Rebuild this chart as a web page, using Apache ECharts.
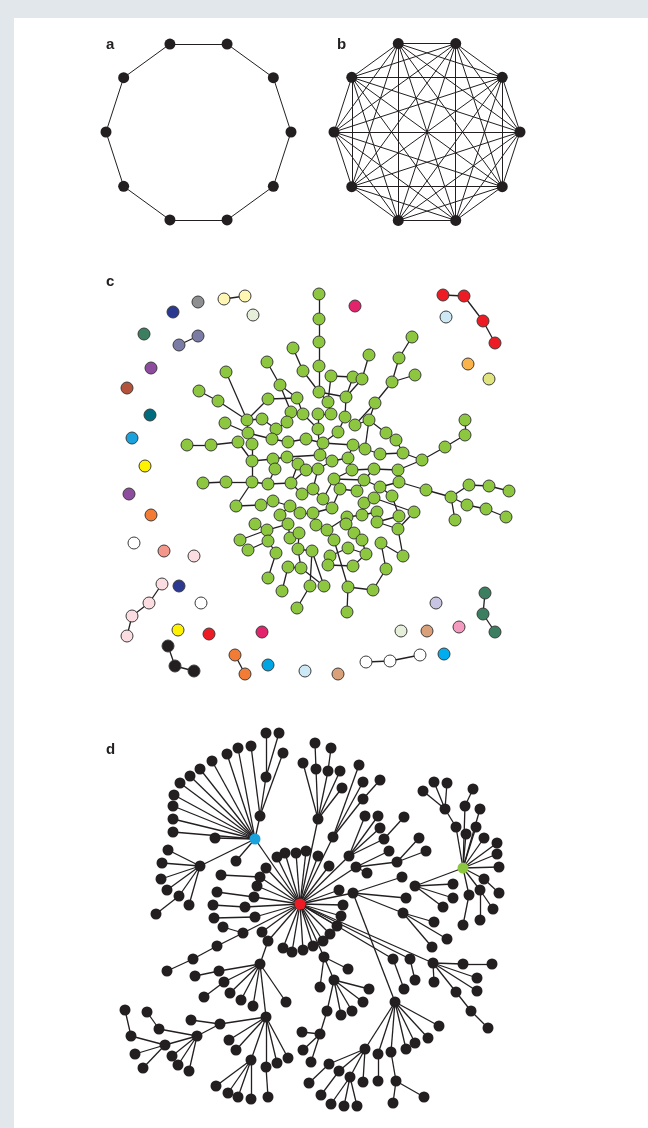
<!DOCTYPE html>
<html>
<head>
<meta charset="utf-8">
<script src="https://cdn.jsdelivr.net/npm/echarts@6/dist/echarts.min.js"></script>
<style>
  html, body { margin: 0; padding: 0; background: #e2e7ec; }
  #chart { width: 648px; height: 1128px; }
</style>
</head>
<body>
<div id="chart"></div>
<script>
// ---------- panel a / b : ten nodes on a circle (angle in degrees) ----------
const ringAngles = [0, 36, 72, 108, 144, 180, 216, 252, 288, 324];

// ---------- panel c : small components (x, y, fill) ----------
const smallNodes = [
  [198, 302, '#8e8f91'], [173, 312, '#2b3990'], [224, 299, '#fff6b3'], [245, 296, '#fff6b3'],
  [253, 315, '#e6efd9'], [144, 334, '#3b7f60'], [179, 345, '#7a7ca6'], [198, 336, '#7a7ca6'],
  [151, 368, '#8e4c9e'], [127, 388, '#b4533c'], [150, 415, '#006b7d'], [132, 438, '#1ba1db'],
  [145, 466, '#fff200'], [355, 306, '#e3236b'], [443, 295, '#ed1c24'], [464, 296, '#ed1c24'],
  [483, 321, '#ed1c24'], [495, 343, '#ed1c24'], [446, 317, '#cde9f6'], [468, 364, '#f9b34a'],
  [489, 379, '#e0e47e'], [129, 494, '#8e4c9e'], [151, 515, '#f27b35'], [134, 543, '#ffffff'],
  [164, 551, '#f4968a'], [194, 556, '#fbdde1'], [162, 584, '#fbdde1'], [149, 603, '#fbdde1'],
  [132, 616, '#fbdde1'], [127, 636, '#fbdde1'], [179, 586, '#2b3990'], [201, 603, '#ffffff'],
  [178, 630, '#fff200'], [209, 634, '#ed1c24'], [262, 632, '#e3236b'], [168, 646, '#231f20'],
  [175, 666, '#231f20'], [194, 671, '#231f20'], [235, 655, '#f27b35'], [245, 674, '#f27b35'],
  [268, 665, '#00a6e4'], [305, 671, '#cde9f6'], [338, 674, '#d9a07a'], [366, 662, '#ffffff'],
  [390, 661, '#ffffff'], [420, 655, '#ffffff'], [444, 654, '#00aeef'], [401, 631, '#e6efd9'],
  [427, 631, '#d9a07a'], [459, 627, '#f49ac1'], [436, 603, '#c8c5e2'], [485, 593, '#3b7f60'],
  [483, 614, '#3b7f60'], [495, 632, '#3b7f60']
];
const smallEdges = [
  [2, 3], [6, 7], [14, 15], [15, 16], [16, 17], [26, 27], [27, 28], [28, 29],
  [35, 36], [36, 37], [38, 39], [43, 44], [44, 45], [51, 52], [52, 53]
];

// ---------- panel c : giant component (node numbers start at 1) ----------
const giantNodes = [
  [319,294],[319,319],[319,342],[319,366],[293,348],[303,371],[267,362],[280,385],[226,372],[199,391],
  [218,401],[412,337],[399,358],[369,355],[392,382],[415,375],[331,376],[353,377],[362,379],[268,399],
  [297,398],[319,392],[328,402],[346,397],[375,403],[247,420],[262,419],[291,412],[303,414],[318,414],
  [331,414],[345,417],[287,422],[355,425],[369,420],[225,423],[248,433],[276,429],[318,429],[338,432],
  [386,433],[238,442],[252,444],[272,439],[288,442],[306,439],[323,443],[353,445],[365,449],[396,440],
  [187,445],[211,445],[465,420],[465,435],[445,447],[380,454],[403,453],[422,460],[252,461],[273,459],
  [287,457],[298,464],[320,455],[332,461],[348,458],[275,469],[306,470],[318,469],[352,470],[374,469],
  [398,470],[203,483],[226,482],[252,482],[268,484],[291,483],[313,489],[334,479],[340,489],[357,491],
  [364,480],[380,487],[399,482],[426,490],[451,497],[469,485],[489,486],[509,491],[467,505],[486,509],
  [506,517],[455,520],[236,506],[261,505],[273,501],[290,506],[302,494],[323,499],[332,508],[364,503],
  [374,498],[392,496],[377,512],[362,515],[347,517],[313,513],[300,513],[280,515],[399,516],[414,512],
  [255,524],[267,530],[288,524],[316,525],[327,530],[346,524],[377,522],[398,529],[240,540],[268,541],
  [290,538],[299,533],[334,540],[354,533],[362,540],[381,543],[248,550],[276,553],[298,549],[312,551],
  [330,556],[348,548],[366,554],[403,556],[288,567],[301,568],[328,565],[353,566],[386,569],[268,578],
  [282,591],[310,586],[324,586],[348,587],[373,590],[297,608],[347,612]
];
const giantEdges = [
  [1,2],[2,3],[3,4],[4,22],[5,6],[6,22],[7,8],[8,21],[8,28],[9,26],[10,11],[11,26],[20,26],[20,21],
  [26,27],[26,37],[36,37],[37,44],[37,43],[51,52],[52,42],[42,59],[44,45],[45,46],[28,33],[33,38],
  [22,23],[22,24],[17,23],[19,24],[14,19],[18,24],[12,13],[13,15],[15,16],[15,25],[25,34],[34,35],
  [29,39],[30,31],[31,23],[32,40],[24,32],[35,41],[41,50],[50,57],[57,58],[53,54],[54,55],[55,58],
  [58,71],[35,49],[48,49],[49,56],[47,48],[46,47],[61,63],[60,61],[63,64],[64,65],[60,66],[62,67],
  [39,63],[65,69],[69,70],[70,71],[21,29],[27,38],[38,44],[28,29],[40,47],[43,59],[59,60],[61,62],
  [67,68],[68,64],[65,48],[25,35],[30,39],[17,18],[56,57],
  [72,73],[73,74],[74,93],[74,59],[74,75],[75,76],[76,97],[97,77],[77,98],[98,78],[78,81],[79,80],
  [80,81],[81,82],[82,83],[83,84],[84,85],[85,86],[86,87],[87,88],[85,89],[89,90],[90,91],[85,92],
  [101,110],[102,109],[100,101],[100,104],[103,117],[117,118],[126,134],[126,139],[139,145],[145,144],
  [144,147],[123,144],[142,130],[143,130],[146,142],[141,135],[140,128],[119,112],[127,120],[111,112],
  [93,94],[94,95],[95,96],[96,108],[108,113],[113,121],[121,122],[122,129],[129,136],[136,135],
  [107,106],[106,99],[99,98],[105,104],[105,116],[116,124],[124,125],[125,133],[133,132],[132,131],
  [131,137],[137,138],[114,115],[115,123],[114,106],[66,75],[68,77],[70,81],[71,83],[79,99],[82,102],
  [103,104],[110,118],[109,117],[120,128],[120,112],[130,129],[136,143],[138,133],[69,78],[62,76],
  [112,113],[105,115],[134,118],[67,76]
];

// ---------- panel d : scale-free network (node numbers start at 1) ----------
const hubColors = { 1: '#1ba1db', 2: '#ed1c24', 3: '#8dc63f' };
const treeNodes = [
  [255,839],[300,904],[463,868],
  [266,733],[279,733],[266,777],[260,816],[283,753],[251,746],[238,748],[227,754],[212,761],[200,769],
  [190,776],[180,783],[174,795],[173,806],[173,819],[173,832],[215,838],[236,861],[200,866],[168,850],
  [162,863],[161,879],[167,890],[179,896],[156,914],[189,905],
  [318,819],[315,743],[331,748],[303,763],[316,769],[328,771],[340,771],[342,788],
  [333,837],[359,765],[363,782],[380,780],[363,799],
  [349,856],[365,816],[378,816],[404,817],[380,828],[384,839],
  [356,867],[397,862],[419,838],[426,851],[389,851],[367,873],
  [277,857],[285,853],[296,853],[306,851],[318,856],[329,866],[339,890],[343,905],[341,916],
  [353,893],[402,877],[406,898],[403,913],[434,922],[447,939],[432,947],
  [415,886],[453,884],[453,898],[443,907],
  [456,827],[445,809],[423,791],[434,782],[447,783],[465,806],[473,789],[480,809],[476,827],[466,834],
  [484,838],[497,843],[497,854],[499,867],[484,879],[499,893],[480,890],[469,895],[493,909],[463,925],
  [480,920],
  [266,868],[260,877],[257,886],[254,897],[245,907],[221,875],[217,892],[213,905],[214,918],[255,917],
  [223,927],[243,933],[262,932],[217,946],[193,959],[167,971],
  [268,941],[283,948],[292,952],[303,950],[313,946],[323,941],[330,934],[337,926],
  [260,964],[219,971],[195,976],[224,982],[204,997],[230,993],[241,1000],[253,1006],[286,1002],[266,1017],
  [220,1024],[191,1020],[197,1036],[229,1040],[236,1050],[251,1060],[266,1067],[277,1063],[288,1058],
  [268,1097],[216,1086],[228,1093],[238,1097],[251,1099],
  [159,1029],[147,1012],[165,1045],[131,1036],[125,1010],[135,1054],[143,1068],[172,1056],[178,1065],
  [189,1071],
  [324,957],[348,969],[334,980],[320,987],[369,989],[363,1002],[352,1011],[341,1015],[327,1011],
  [320,1034],[302,1032],[303,1050],[311,1062],
  [393,959],[410,959],[433,963],[463,964],[492,964],[477,978],[477,991],[456,992],[471,1011],[488,1028],
  [415,980],[404,989],[434,982],
  [395,1002],[439,1026],[428,1038],[415,1043],[406,1049],[391,1052],[378,1054],[365,1049],[396,1081],
  [393,1103],[424,1097],[378,1081],[329,1064],[339,1071],[350,1077],[363,1082],[309,1083],[321,1095],
  [331,1104],[344,1106],[357,1106]
];
const treeEdges = [
  [4,6],[5,6],[6,7],[8,7],[9,7],[7,1],[10,1],[11,1],[12,1],[13,1],[14,1],[15,1],[16,1],[17,1],[18,1],
  [19,1],[20,1],[21,1],[22,1],[22,23],[22,24],[22,25],[22,26],[22,27],[27,28],[22,29],[1,2],
  [31,34],[32,35],[33,30],[34,30],[35,30],[36,30],[37,30],[30,2],
  [39,38],[40,38],[41,42],[42,38],[38,2],
  [44,43],[45,43],[47,43],[46,48],[48,43],[43,2],
  [50,49],[51,50],[52,50],[53,49],[54,49],[49,2],
  [55,2],[56,2],[57,2],[58,2],[59,2],[60,2],[61,2],[62,2],[63,2],
  [64,2],[64,65],[64,66],[64,67],[67,68],[67,69],[67,70],
  [71,3],[71,72],[71,73],[71,74],
  [77,76],[78,76],[79,76],[76,75],[75,3],[81,80],[80,3],[82,3],[83,3],[84,3],[85,3],[86,3],[87,3],
  [88,3],[89,3],[89,90],[91,3],[91,93],[92,3],[92,94],[91,95],
  [96,2],[97,2],[98,2],[99,2],[100,2],[101,97],[102,99],[103,100],[104,105],[105,2],[106,107],[107,2],
  [108,2],[109,107],[110,109],[111,110],
  [112,2],[113,2],[114,2],[115,2],[116,2],[117,2],[118,2],[119,2],
  [112,120],[121,120],[122,121],[123,120],[124,123],[125,120],[126,120],[127,120],[128,120],[129,120],
  [130,129],[131,130],[132,130],[133,129],[134,129],[135,129],[136,129],[137,129],[138,129],[136,139],
  [140,135],[141,135],[142,135],[143,135],
  [144,132],[145,144],[146,132],[147,146],[148,147],[149,146],[150,146],[151,132],[152,132],[153,132],
  [154,2],[155,154],[156,154],[157,154],[158,156],[159,156],[160,156],[161,156],[162,156],[163,162],
  [164,163],[165,163],[166,163],
  [167,2],[168,2],[169,2],[170,169],[171,170],[172,169],[173,169],[174,169],[175,174],[176,175],
  [177,168],[178,167],[179,169],
  [180,64],[181,180],[182,180],[183,180],[184,180],[185,180],[186,180],[187,180],[188,185],[189,188],
  [190,188],[191,186],[192,187],[193,187],[194,187],[195,187],[196,192],[197,193],[198,194],[199,194],
  [200,194]
];

// ---------- panel captions ----------
const panelLetters = [
  { text: 'a', x: 106, y: 45 },
  { text: 'b', x: 337, y: 45 },
  { text: 'c', x: 106, y: 282 },
  { text: 'd', x: 106, y: 750 }
];

const INK = '#231f20';
const chart = echarts.init(document.getElementById('chart'), null, { renderer: 'canvas' });

function ringSeries(polarIndex, complete) {
  const data = ringAngles.map((a, i) => ({ name: 'n' + i, value: [1, a] }));
  const links = [];
  for (let i = 0; i < ringAngles.length; i++) {
    if (complete) {
      for (let j = i + 1; j < ringAngles.length; j++) links.push({ source: 'n' + i, target: 'n' + j });
    } else {
      links.push({ source: 'n' + i, target: 'n' + ((i + 1) % ringAngles.length) });
    }
  }
  return {
    type: 'graph', coordinateSystem: 'polar', polarIndex,
    symbolSize: 11, itemStyle: { color: INK },
    lineStyle: { color: INK, width: 1, opacity: 1 },
    data, links, silent: true, animation: false
  };
}

const smallSeries = {
  type: 'graph', coordinateSystem: 'cartesian2d',
  symbolSize: 12,
  data: smallNodes.map((n, i) => ({
    name: 's' + i, value: [n[0], n[1]],
    itemStyle: { color: n[2], borderColor: '#3c3c3c', borderWidth: 1 }
  })),
  links: smallEdges.map(e => ({ source: 's' + e[0], target: 's' + e[1] })),
  lineStyle: { color: INK, width: 1.3, opacity: 1 },
  silent: true, animation: false
};

const giantSeries = {
  type: 'graph', coordinateSystem: 'cartesian2d',
  symbolSize: 12,
  data: giantNodes.map((n, i) => ({
    name: 'g' + (i + 1), value: n,
    itemStyle: { color: '#8dc63f', borderColor: '#3c3c3c', borderWidth: 1 }
  })),
  links: giantEdges.map(e => ({ source: 'g' + e[0], target: 'g' + e[1] })),
  lineStyle: { color: INK, width: 1.3, opacity: 1 },
  silent: true, animation: false
};

const treeSeries = {
  type: 'graph', coordinateSystem: 'cartesian2d',
  symbolSize: 11,
  data: treeNodes.map((n, i) => ({
    name: 't' + (i + 1), value: n,
    itemStyle: { color: hubColors[i + 1] || INK }
  })),
  links: treeEdges.map(e => ({ source: 't' + e[0], target: 't' + e[1] })),
  lineStyle: { color: INK, width: 1.3, opacity: 1 },
  silent: true, animation: false
};

chart.setOption({
  backgroundColor: '#e2e7ec',
  animation: false,
  graphic: [
    { type: 'rect', z: -10, shape: { x: 14, y: 18, width: 634, height: 1110 }, style: { fill: '#ffffff' } }
  ].concat(panelLetters.map(p => ({
    type: 'text', x: p.x, y: p.y, z: 10,
    style: {
      text: p.text, fill: INK,
      font: 'bold 15px "Liberation Sans", Arial, sans-serif',
      verticalAlign: 'middle'
    }
  }))),
  polar: [
    { center: [198.5, 132], radius: 92.5 },
    { center: [427, 132], radius: 93 }
  ],
  angleAxis: [
    { polarIndex: 0, type: 'value', min: 0, max: 360, startAngle: 0, show: false },
    { polarIndex: 1, type: 'value', min: 0, max: 360, startAngle: 0, show: false }
  ],
  radiusAxis: [
    { polarIndex: 0, type: 'value', min: 0, max: 1, show: false },
    { polarIndex: 1, type: 'value', min: 0, max: 1, show: false }
  ],
  grid: { left: 0, top: 0, width: 648, height: 1128, show: false },
  xAxis: { type: 'value', min: 0, max: 648, show: false },
  yAxis: { type: 'value', min: 0, max: 1128, inverse: true, show: false },
  series: [ringSeries(0, false), ringSeries(1, true), smallSeries, giantSeries, treeSeries]
});
</script>
</body>
</html>
